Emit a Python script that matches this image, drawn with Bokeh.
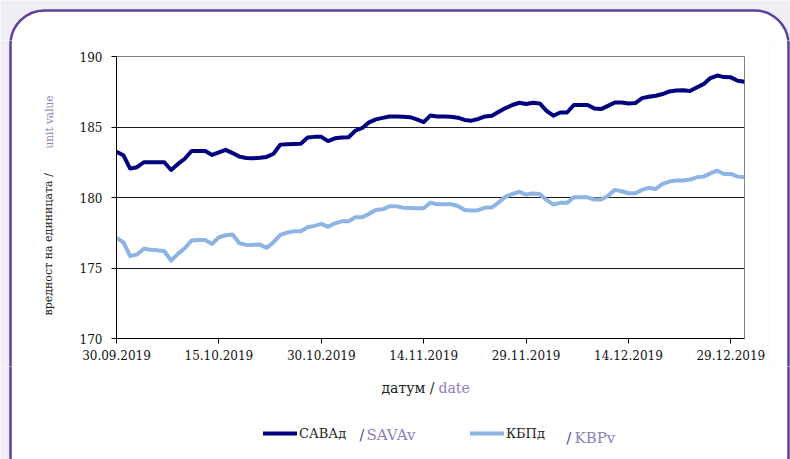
import math
import pandas as pd
from bokeh.plotting import figure
from bokeh.layouts import column, row
from bokeh.models import (Range1d, FixedTicker, DatetimeTickFormatter, Legend, LegendItem,
                          Label, BoxAnnotation, ColumnDataSource)
from bokeh.embed import file_html
from bokeh.resources import INLINE

# ---------------- data ----------------
dates = pd.date_range("2019-09-30", "2019-12-31", freq="D")

sava = [183.25, 183.0, 182.05, 182.15, 182.5, 182.5, 182.5, 182.5, 181.95, 182.38,
        182.75, 183.3, 183.3, 183.3, 183.02, 183.2, 183.38, 183.15, 182.9, 182.8,
        182.78, 182.82, 182.88, 183.1, 183.75, 183.77, 183.8, 183.82, 184.25, 184.3,
        184.3, 184.0, 184.2, 184.25, 184.27, 184.74, 184.93, 185.33, 185.54, 185.65,
        185.75, 185.75, 185.72, 185.7, 185.54, 185.35, 185.82, 185.75, 185.75, 185.73,
        185.66, 185.5, 185.45, 185.57, 185.75, 185.8, 186.08, 186.34, 186.56, 186.72,
        186.63, 186.72, 186.67, 186.15, 185.8, 186.03, 186.03, 186.56, 186.56, 186.56,
        186.32, 186.27, 186.5, 186.74, 186.74, 186.67, 186.7, 187.05, 187.15, 187.22,
        187.34, 187.52, 187.59, 187.6, 187.55, 187.8, 188.04, 188.47, 188.65, 188.54,
        188.52, 188.28, 188.21]

kbp = [177.14, 176.83, 175.84, 175.96, 176.36, 176.3, 176.26, 176.19, 175.53, 176.0,
       176.4, 176.95, 176.98, 176.98, 176.71, 177.18, 177.32, 177.37, 176.76, 176.64,
       176.64, 176.66, 176.43, 176.83, 177.35, 177.51, 177.61, 177.61, 177.89, 177.99,
       178.13, 177.92, 178.17, 178.31, 178.31, 178.6, 178.6, 178.84, 179.12, 179.16,
       179.38, 179.38, 179.28, 179.26, 179.24, 179.24, 179.64, 179.52, 179.52, 179.52,
       179.4, 179.12, 179.07, 179.1, 179.28, 179.3, 179.66, 180.06, 180.25, 180.4,
       180.21, 180.28, 180.25, 179.83, 179.5, 179.62, 179.62, 180.01, 180.01, 180.01,
       179.85, 179.85, 180.13, 180.54, 180.44, 180.3, 180.3, 180.54, 180.68, 180.61,
       180.96, 181.13, 181.2, 181.2, 181.27, 181.43, 181.48, 181.71, 181.9, 181.67,
       181.67, 181.48, 181.43]

x_tick_dates = ["2019-09-30", "2019-10-15", "2019-10-30", "2019-11-14",
                "2019-11-29", "2019-12-14", "2019-12-29"]
y_ticks = [170, 175, 180, 185, 190]
grid_ticks = [175, 180, 185]

series_names = ["САВАд", "КБПд"]
series_latin = ["SAVAv", "KBPv"]
x_title = ["датум /", "date"]
y_title = ["вредност на единицата /", "unit value"]

# ---------------- styles ----------------
FONT = "DejaVu Serif"
DARK = "#000080"
LIGHT = "#8db4e2"
LAV = "#8e7dbb"
SLASH = "#3a3a9e"
TXT = "#222222"
PAGE = "#efeef5"
BORDER = "#5f3f9b"

W, H = 790, 459
TOP_H, BOT_H = 40, 93
LEFT_W, RIGHT_W = 62, 22
MID_H = H - TOP_H - BOT_H            # 326
MAIN_W = W - LEFT_W - RIGHT_W        # 706
PANEL = dict(left=10, right=788, top=10, bottom=490, radius=34)


def ms(d):
    return pd.Timestamp(d).value // 10**6


def no_align(f):
    try:
        f.frame_align = False
    except AttributeError:
        pass


def aux(width, height, x0, y0):
    f = figure(width=width, height=height, output_backend="svg", toolbar_location=None,
               x_axis_location=None, y_axis_location=None, min_border=0,
               x_range=Range1d(0, 1), y_range=Range1d(0, 1))
    no_align(f)
    f.grid.visible = False
    f.outline_line_color = None
    f.background_fill_color = PAGE
    f.border_fill_color = PAGE
    # rounded white panel (absolute page coords -> this frame's screen coords)
    f.add_layout(BoxAnnotation(
        left=PANEL["left"] - x0, right=PANEL["right"] - x0,
        top=(y0 + height) - PANEL["top"], bottom=(y0 + height) - PANEL["bottom"],
        left_units="screen", right_units="screen", top_units="screen", bottom_units="screen",
        fill_color="white", fill_alpha=1, line_color=BORDER, line_alpha=1, line_width=2.5,
        border_radius=PANEL["radius"], level="underlay"))
    f._x0, f._y0, f._h = x0, y0, height
    return f


def lab(f, X, Y, text, color, size, align="left", angle=0.0):
    f.add_layout(Label(x=X - f._x0, y=(f._y0 + f._h) - Y, x_units="screen", y_units="screen",
                       text=text, text_color=color, text_font=FONT, text_font_size=size,
                       text_align=align, text_baseline="middle", angle=angle))


# ---------------- main chart ----------------
src = ColumnDataSource(dict(date=dates, sava=sava, kbp=kbp))

p = figure(width=MAIN_W, height=MID_H, x_axis_type="datetime", output_backend="svg",
           toolbar_location=None,
           min_border_left=54, min_border_right=24, min_border_top=16, min_border_bottom=28,
           x_range=Range1d(ms("2019-09-30"), ms("2019-12-31")),
           y_range=Range1d(170, 190))
no_align(p)
p.background_fill_color = "white"
p.border_fill_color = "white"
p.outline_line_color = "#808080"
p.outline_line_width = 1

xa = p.xaxis[0]
xa.ticker = FixedTicker(ticks=[ms(d) for d in x_tick_dates])
fmt = "%d.%m.%Y"
xa.formatter = DatetimeTickFormatter(days=fmt, months=fmt, years=fmt, hours=fmt,
                                     hourmin=fmt, minutes=fmt, minsec=fmt, seconds=fmt,
                                     milliseconds=fmt, microseconds=fmt)
ya = p.yaxis[0]
ya.ticker = FixedTicker(ticks=y_ticks)
for ax in (xa, ya):
    ax.axis_line_color = "black"
    ax.axis_line_width = 1
    ax.major_tick_line_color = "black"
    ax.major_tick_out = 5
    ax.major_tick_in = 0
    ax.minor_tick_out = 0
    ax.minor_tick_in = 0
    ax.major_label_text_font = FONT
    ax.major_label_text_font_size = "12px"
    ax.major_label_text_color = "#111111"
xa.major_label_standoff = 6
ya.major_label_standoff = 9

p.xgrid.visible = False
p.ygrid.ticker = FixedTicker(ticks=grid_ticks)
p.ygrid.grid_line_color = "#1a1a1a"
p.ygrid.grid_line_width = 1

p.line(x="date", y="sava", source=src, line_color=DARK, line_width=4, line_join="round")
p.line(x="date", y="kbp", source=src, line_color=LIGHT, line_width=4, line_join="round")

# ---------------- surrounding panels ----------------
top = aux(W, TOP_H, 0, 0)
left = aux(LEFT_W, MID_H, 0, TOP_H)
right = aux(RIGHT_W, MID_H, LEFT_W + MAIN_W, TOP_H)
bottom = aux(W, BOT_H, 0, TOP_H + MID_H)

# y-axis title (rotated)
lab(left, 48, 315, y_title[0], TXT, "11px", angle=math.pi / 2)
lab(left, 48, 148, y_title[1], LAV, "10.5px", angle=math.pi / 2)

# x-axis title
lab(bottom, 434, 387, x_title[0], TXT, "14px", align="right")
lab(bottom, 438, 387, x_title[1], LAV, "14px")

# legend: sample renderers carry the series styles but draw nothing in the panel
nan = float("nan")
sample = ColumnDataSource(dict(x=[nan], y=[nan]))
lr1 = bottom.line(x="x", y="y", source=sample, line_color=DARK, line_width=4, line_cap="round")
lr2 = bottom.line(x="x", y="y", source=sample, line_color=LIGHT, line_width=4, line_cap="round")
for name, rend, X in ((series_names[0], lr1, 263), (series_names[1], lr2, 470)):
    bottom.add_layout(Legend(
        items=[LegendItem(label=name, renderers=[rend])],
        location=(X - bottom._x0, (bottom._y0 + bottom._h) - 443),
        orientation="horizontal", glyph_width=34, glyph_height=20, label_height=20,
        label_standoff=2, padding=0, margin=0, spacing=0,
        border_line_color=None, background_fill_alpha=0,
        label_text_font=FONT, label_text_font_size="13px", label_text_color=TXT))

lab(bottom, 359, 434, "/", SLASH, "14px")
lab(bottom, 366, 434, series_latin[0], LAV, "15px")
lab(bottom, 566, 437, "/", SLASH, "14px")
lab(bottom, 574, 437, series_latin[1], LAV, "15px")

layout = column(top, row(left, p, right), bottom)

open("out.html", "w").write(file_html(layout, INLINE))
